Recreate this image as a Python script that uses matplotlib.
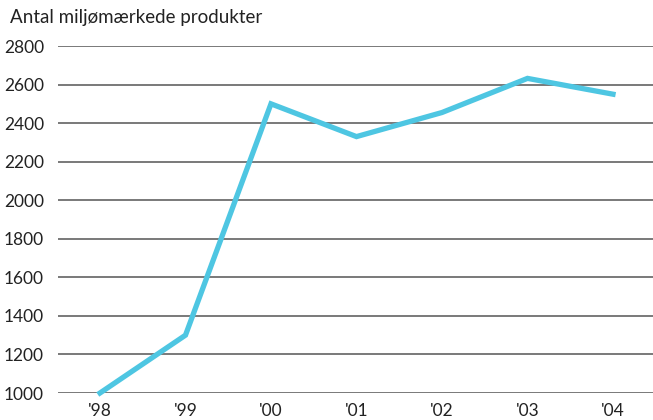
import matplotlib
matplotlib.use("Agg")
import matplotlib.pyplot as plt

years = ["'98", "'99", "'00", "'01", "'02", "'03", "'04"]
values = [1000, 1300, 2500, 2330, 2455, 2632, 2550]
yticks = [1000, 1200, 1400, 1600, 1800, 2000, 2200, 2400, 2600, 2800]
title = "Antal miljømærkede produkter"

plt.rcParams['font.family'] = ['Lato', 'DejaVu Sans']

fig = plt.figure(figsize=(6.53, 4.2), dpi=100)
ax = fig.add_axes([58/653, 1-393/420, 1-58/653, (393-46)/420])
ax.set_xlim(-0.491, 6.468)
ax.set_ylim(1000, 2800)
for y in yticks:
    ax.axhline(y, color='#555555', lw=1.1, zorder=1)
x = list(range(len(years)))
ax.plot(x, values, color='#4EC6E2', lw=3.8, solid_joinstyle='miter', clip_on=False, zorder=3)
for s in ax.spines.values():
    s.set_visible(False)
ax.set_yticks(yticks)
ax.set_yticklabels([str(v) for v in yticks], fontsize=12.5, color='#222222')
ax.set_xticks(x)
ax.set_xticklabels(years, fontsize=12.5, color='#222222')
ax.tick_params(length=0)
ax.tick_params(axis='y', pad=10)
ax.tick_params(axis='x', pad=7)
fig.text(10/653, 1-18/420, title, fontsize=13.5, color='#222222', va='center', ha='left')
fig.savefig("out.png", dpi=100)
